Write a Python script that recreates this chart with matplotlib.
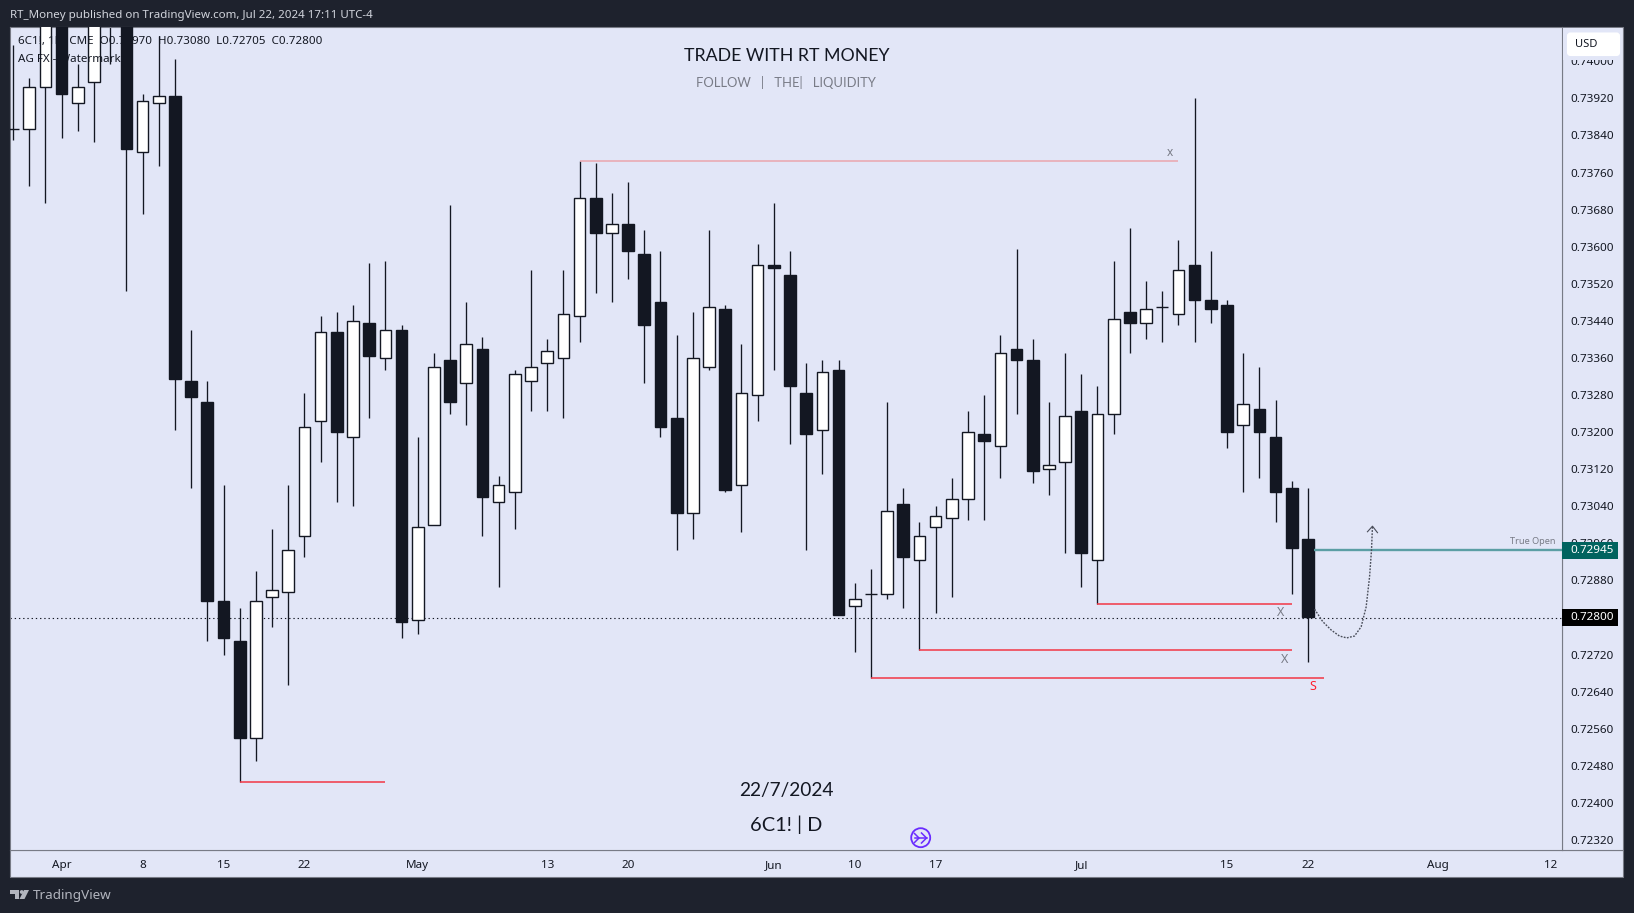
import matplotlib
matplotlib.use('Agg')
import matplotlib.pyplot as plt
from matplotlib.lines import Line2D
from matplotlib.patches import Circle, FancyBboxPatch, Polygon, Rectangle
from matplotlib.transforms import Affine2D

W, H = 1634, 913
BG_DARK = '#1e222d'
BG_PANE = '#e2e6f7'
INK = '#131722'
GREY = '#787b86'
RED = '#f23645'

# daily candles, index 0 is the leftmost bar on screen
opens = [0.73855, 0.73855, 0.73945, 0.74180, 0.73910, 0.73955, 0.74200, 0.74250, 0.73805, 0.73910,
         0.73925, 0.73310, 0.73265, 0.72835, 0.72750, 0.72540, 0.72845, 0.72855, 0.72975, 0.73225,
         0.73415, 0.73190, 0.73435, 0.73360, 0.73420, 0.72795, 0.73000, 0.73355, 0.73305, 0.73380,
         0.73050, 0.73070, 0.73310, 0.73350, 0.73360, 0.73450, 0.73705, 0.73630, 0.73650, 0.73585,
         0.73480, 0.73230, 0.73025, 0.73340, 0.73465, 0.73085, 0.73280, 0.73560, 0.73540, 0.73285,
         0.73205, 0.73335, 0.72825, 0.72850, 0.72850, 0.73045, 0.72925, 0.72995, 0.73015, 0.73055,
         0.73195, 0.73170, 0.73380, 0.73355, 0.73120, 0.73135, 0.73245, 0.72925, 0.73240, 0.73460,
         0.73435, 0.73470, 0.73455, 0.73560, 0.73485, 0.73475, 0.73215, 0.73250, 0.73190, 0.73080,
         0.72970]
highs = [0.74035, 0.73965, 0.74200, 0.74230, 0.73995, 0.74180, 0.74300, 0.74300, 0.73930, 0.74055,
         0.74005, 0.73420, 0.73310, 0.73085, 0.72820, 0.72900, 0.72990, 0.73085, 0.73285, 0.73450,
         0.73460, 0.73475, 0.73565, 0.73570, 0.73430, 0.73190, 0.73370, 0.73690, 0.73480, 0.73405,
         0.73105, 0.73335, 0.73550, 0.73400, 0.73550, 0.73785, 0.73780, 0.73715, 0.73740, 0.73635,
         0.73590, 0.73410, 0.73460, 0.73635, 0.73475, 0.73390, 0.73605, 0.73695, 0.73590, 0.73350,
         0.73355, 0.73355, 0.72875, 0.72905, 0.73265, 0.73080, 0.73005, 0.73040, 0.73100, 0.73245,
         0.73280, 0.73410, 0.73595, 0.73400, 0.73265, 0.73370, 0.73325, 0.73300, 0.73570, 0.73640,
         0.73525, 0.73505, 0.73615, 0.73920, 0.73590, 0.73485, 0.73370, 0.73340, 0.73270, 0.73095,
         0.73080]
lows = [0.73830, 0.73730, 0.73695, 0.73835, 0.73850, 0.73825, 0.73995, 0.73505, 0.73670, 0.73775,
        0.73205, 0.73080, 0.72750, 0.72720, 0.72445, 0.72490, 0.72780, 0.72655, 0.72930, 0.73135,
        0.73050, 0.73040, 0.73230, 0.73335, 0.72755, 0.72765, 0.73000, 0.73240, 0.73215, 0.72975,
        0.72865, 0.72990, 0.73245, 0.73245, 0.73230, 0.73395, 0.73500, 0.73480, 0.73530, 0.73305,
        0.73190, 0.72945, 0.72970, 0.73335, 0.73070, 0.72985, 0.73225, 0.73335, 0.73175, 0.72945,
        0.73110, 0.72805, 0.72725, 0.72670, 0.72840, 0.72820, 0.72730, 0.72810, 0.72845, 0.73010,
        0.73010, 0.73100, 0.73240, 0.73090, 0.73065, 0.72940, 0.72865, 0.72830, 0.73195, 0.73370,
        0.73400, 0.73395, 0.73430, 0.73395, 0.73435, 0.73165, 0.73070, 0.73100, 0.73005, 0.72850,
        0.72705]
closes = [0.73855, 0.73945, 0.74150, 0.73930, 0.73945, 0.74120, 0.74100, 0.73810, 0.73915, 0.73925,
          0.73315, 0.73275, 0.72835, 0.72755, 0.72540, 0.72835, 0.72860, 0.72945, 0.73210, 0.73415,
          0.73200, 0.73440, 0.73365, 0.73420, 0.72790, 0.72995, 0.73340, 0.73265, 0.73390, 0.73060,
          0.73085, 0.73325, 0.73340, 0.73375, 0.73455, 0.73705, 0.73630, 0.73650, 0.73590, 0.73430,
          0.73210, 0.73025, 0.73360, 0.73470, 0.73075, 0.73285, 0.73560, 0.73555, 0.73300, 0.73195,
          0.73330, 0.72805, 0.72840, 0.72850, 0.73030, 0.72930, 0.72975, 0.73020, 0.73055, 0.73200,
          0.73180, 0.73370, 0.73355, 0.73115, 0.73130, 0.73235, 0.72940, 0.73240, 0.73445, 0.73435,
          0.73465, 0.73470, 0.73550, 0.73485, 0.73465, 0.73200, 0.73260, 0.73200, 0.73070, 0.72950,
          0.72800]

x_tick_pos = [3, 8, 13, 18, 25, 33, 38, 47, 52, 57, 66, 75, 80, 88, 95]
x_tick_labels = ['Apr', '8', '15', '22', 'May', '13', '20', 'Jun', '10', '17', 'Jul', '15', '22', 'Aug', '12']
y_ticks = [0.72320, 0.72400, 0.72480, 0.72560, 0.72640, 0.72720, 0.72800, 0.72880, 0.72960, 0.73040, 0.73120,
           0.73200, 0.73280, 0.73360, 0.73440, 0.73520, 0.73600, 0.73680, 0.73760, 0.73840, 0.73920, 0.74000]

# drawn levels: start bar, end bar, price
red_levels = [(14, 23, 0.72445), (67, 79, 0.72830), (56, 79, 0.72730), (53, 81, 0.72670)]
pale_level = (35, 72, 0.73785)
true_open = 0.72945
last_close = 0.72800

# hand drawn projection after the last bar
path_bars = [80.41, 80.92, 81.44, 81.95, 82.40, 82.88, 83.29, 83.60, 83.81, 83.93, 83.99]
path_prices = [0.72818, 0.72791, 0.72773, 0.72760, 0.72756, 0.72760, 0.72780, 0.72823, 0.72888, 0.72946, 0.72997]

fig = plt.figure(figsize=(W / 100, H / 100), dpi=100, facecolor=BG_DARK)
px = Affine2D().scale(1, -1).translate(0, H)


def px_rect(x0, y0, x1, y1, **kw):
    fig.add_artist(Rectangle((x0, y0), x1 - x0, y1 - y0, transform=px, **kw))


def px_text(x, y, s, **kw):
    kw.setdefault('va', 'center')
    kw.setdefault('family', 'Noto Sans')
    kw.setdefault('zorder', 8)
    fig.text(x, y, s, transform=px, **kw)


pane_l, pane_r, pane_t, pane_b = 10, 1562, 27.3, 850.3
ax = fig.add_axes([pane_l / W, 1 - pane_b / H, (pane_r - pane_l) / W, (pane_b - pane_t) / H], facecolor=BG_PANE)
ax.set_xlim((pane_l - 13.1) / 16.185, (pane_r - 13.1) / 16.185)
ax.set_ylim(0.728 + (617.5 - pane_b) / 46350, 0.728 + (617.5 - pane_t) / 46350)

# strips around the pane
px_rect(pane_l, pane_b, 1623, 877.3, fc=BG_PANE, ec=GREY, lw=0.8, zorder=-1)
px_rect(pane_r, pane_t, 1623, pane_b, fc=BG_PANE, ec=GREY, lw=0.8, zorder=-1)

for i in range(len(opens)):
    up = closes[i] >= opens[i]
    ax.vlines(i, lows[i], highs[i], color=INK, lw=0.95, zorder=2)
    ax.bar(i, closes[i] - opens[i], bottom=opens[i], width=0.72, color='white' if up else INK,
           edgecolor=INK, linewidth=1.0, zorder=3)

for start, end, price in red_levels:
    ax.hlines(price, start, end, color=RED, lw=1.1, zorder=4)
ax.hlines(pale_level[2], pale_level[0], pale_level[1], color='#eba6ad', lw=1.1, zorder=4)
ax.hlines(true_open, 80.4, ax.get_xlim()[1], color='#5b9ea4', lw=1.7, zorder=4)
ax.axhline(last_close, color=INK, lw=0.8, dashes=(1.2, 2.6), zorder=1)

ax.plot(path_bars, path_prices, color='#4a4e5a', lw=1.0, dashes=(1.3, 1.0), zorder=5)
ax.plot([83.68, 83.99, 84.30], [0.72985, 0.72997, 0.72983], color='#4a4e5a', lw=0.8, zorder=5)

ax.set_xticks(x_tick_pos)
ax.set_xticklabels(x_tick_labels)
ax.yaxis.tick_right()
ax.set_yticks(y_ticks)
ax.set_yticklabels(['%.5f' % v for v in y_ticks])
ax.tick_params(axis='x', length=0, pad=7, labelsize=8.4, labelcolor=INK)
ax.tick_params(axis='y', length=0, pad=6, labelsize=8.4, labelcolor=INK)
for lab in ax.get_xticklabels() + ax.get_yticklabels():
    lab.set_family('Noto Sans')
for spine in ax.spines.values():
    spine.set_color(GREY)
    spine.set_linewidth(0.8)

# header and footer
px_text(10, 15, 'RT_Money published on TradingView.com, Jul 22, 2024 17:11 UTC-4', color='#d1d4dc', fontsize=8.3)
px_text(33, 895.7, 'TradingView', color='#b2b5be', fontsize=9.7)
fig.add_artist(Polygon([(10, 890), (19, 890), (19, 899), (15, 899), (15, 893.5), (10, 893.5)],
                       transform=px, fc='#b2b5be', ec='none', zorder=8))
fig.add_artist(Circle((21.7, 892), 1.9, transform=px, fc='#b2b5be', ec='none', zorder=8))
fig.add_artist(Polygon([(24, 890), (29, 890), (24.5, 899), (19.5, 899)], transform=px, fc='#b2b5be', ec='none', zorder=8))

# legend in the top left
px_text(18, 41.7, '6C1!, 1D, CME  O0.72970  H0.73080  L0.72705  C0.72800', color=INK, fontsize=8.35)
px_text(18, 59, 'AG FX - Watermark', color=INK, fontsize=8.35)

# watermark style titles
px_text(786.5, 56, 'TRADE WITH RT MONEY', color=INK, fontsize=12.8, ha='center', family='Lato')
px_text(786, 82, 'FOLLOW   |   THE|   LIQUIDITY', color=GREY, fontsize=9.4, ha='center', family='Lato')
px_text(786, 790.5, '22/7/2024', color=INK, fontsize=13.8, ha='center', family='Lato')
px_text(786, 824.5, '6C1! | D', color=INK, fontsize=14.4, ha='center', family='Lato')

# small chart notes
px_text(1169.8, 152, 'x', color=GREY, fontsize=8.5, ha='center')
px_text(1281, 612.5, 'X', color=GREY, fontsize=9, ha='center')
px_text(1284.5, 659.5, 'X', color=GREY, fontsize=9, ha='center')
px_text(1313, 686.5, 'S', color='#ff1f2e', fontsize=9, ha='center')
px_text(1556, 541.7, 'True Open', color=GREY, fontsize=6.6, ha='right')

# price boxes on the axis
px_rect(pane_r, 542, 1618, 558.7, fc='#00635f', ec='none', zorder=9)
px_text(1570.6, 550.3, '%.5f' % true_open, color='white', fontsize=8.4, fontweight='bold', zorder=10)
px_rect(pane_r, 609, 1618, 625.7, fc='black', ec='none', zorder=9)
px_text(1570.6, 617.4, '%.5f' % last_close, color='white', fontsize=8.4, fontweight='bold', zorder=10)

px_rect(pane_r + 1, 28, 1622, 59.5, fc=BG_PANE, ec='none', zorder=9)
fig.add_artist(FancyBboxPatch((1568, 33.5), 51, 21.5, boxstyle='round,pad=0,rounding_size=2.5', transform=px,
                              fc='white', ec='white', lw=1.5, zorder=9.5))
px_text(1575, 44.5, 'USD', color=INK, fontsize=8, zorder=10)

# purple replay icon
purple = '#6a2cff'
fig.add_artist(Circle((920.7, 837.7), 9.5, transform=px, fc=BG_PANE, ec=purple, lw=1.3, zorder=8))
fig.add_artist(Line2D([914.5, 926.5], [838, 838], transform=px, color=purple, lw=1.1, zorder=9))
fig.add_artist(Line2D([921.5, 926.5, 921.5], [833, 838, 843], transform=px, color=purple, lw=1.1, zorder=9))
fig.add_artist(Line2D([914.5, 919, 914.5], [833.5, 838, 842.5], transform=px, color=purple, lw=1.1, zorder=9))

fig.savefig('out.png', dpi=100, facecolor=fig.get_facecolor())
